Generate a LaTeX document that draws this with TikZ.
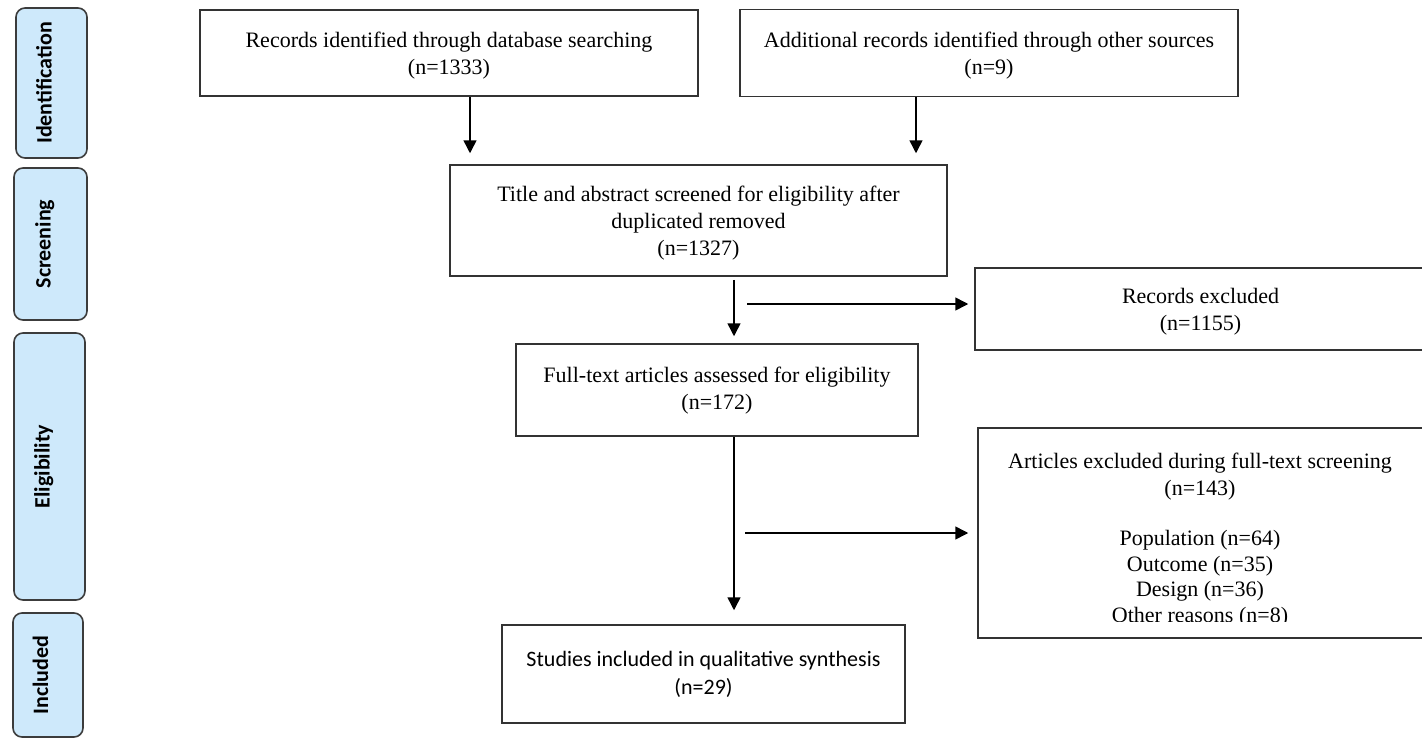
\documentclass[tikz,border=0pt]{standalone}
\usepackage{fontspec}
\setmainfont{Liberation Serif}
\newfontfamily\calibrifont{Carlito}
\usepackage{tikz}
\usetikzlibrary{arrows.meta}
\definecolor{phasefill}{RGB}{206,233,251}
\definecolor{phaseline}{RGB}{60,60,60}

\begin{document}
\begin{tikzpicture}[
  x=1pt,y=-1pt,
  box/.style={draw=black!80,line width=1.5pt,inner sep=0pt,align=center,text depth=-3pt,
              font=\fontsize{22pt}{27pt}\selectfont},
  phase/.style={draw=phaseline,fill=phasefill,line width=1.6pt,rounded corners=9pt,
                rotate=90,inner sep=0pt,text height=9pt,text depth=9pt,
                font=\calibrifont\bfseries\fontsize{22pt}{26pt}\selectfont},
  ar/.style={-{Triangle[length=13pt,width=13pt]},line width=1.5pt}
]
\useasboundingbox (0,0) rectangle (1422,739);

% phases on the left
\node[phase,minimum width=150pt,minimum height=71pt] (idf) at (51.5,83) {Identification};
\node[phase,minimum width=152pt,minimum height=73pt] (scr) at (50.5,244) {Screening};
\node[phase,minimum width=267pt,minimum height=71pt] (elg) at (49.5,466.5) {Eligibility};
\node[phase,minimum width=124pt,minimum height=70pt] (icl) at (48,675) {Included};

% flow boxes
\node[box,minimum width=498pt,minimum height=86pt] (db) at (449,53)
  {Records identified through database searching\\(n=1333)};
\node[box,minimum width=498pt,minimum height=87pt] (oth) at (989,53)
  {Additional records identified through other sources\\(n=9)};
\node[box,minimum width=497pt,minimum height=111pt] (ttl) at (698.5,220.5)
  {Title and abstract screened for eligibility after\\duplicated removed\\(n=1327)};
\node[box,minimum width=451pt,minimum height=82pt] (rex) at (1200.5,309)
  {Records excluded\\(n=1155)};
\node[box,minimum width=402pt,minimum height=92pt,text depth=3pt] (ful) at (717,390)
  {Full-text articles assessed for eligibility\\(n=172)};
\node[box,minimum width=448pt,minimum height=210pt] (aex) at (1202,533) {};
\begin{scope}
  \clip (978,428) rectangle (1426,621);
  \node[align=center,inner sep=0pt,font=\fontsize{22pt}{25.5pt}\selectfont] (aext) at (1200,540)
    {Articles excluded during full-text screening\\[1.5pt](n=143)\\[24.5pt]
     Population (n=64)\\Outcome (n=35)\\Design (n=36)\\Other reasons (n=8)};
\end{scope}
\node[box,minimum width=403pt,minimum height=98pt,text depth=,
      font=\calibrifont\fontsize{22pt}{28pt}\selectfont]
  (inc) at (703.5,674) {Studies included in qualitative synthesis\\(n=29)};

% connectors
\draw[ar,shorten >=11pt] ([xshift=21pt]db.south) -- ([xshift=21pt]db.south |- ttl.north);
\draw[ar,shorten >=11pt] ([xshift=-73pt]oth.south) -- ([xshift=-73pt]oth.south |- ttl.north);
\draw[ar,shorten <=3pt,shorten >=7pt] ([xshift=35.5pt]ttl.south) -- ([xshift=35.5pt]ttl.south |- ful.north);
\draw[ar,shorten >=14pt] ([xshift=17pt]ful.south) -- ([xshift=17pt]ful.south |- inc.north);
\coordinate (br1) at (747,304);
\draw[ar,shorten >=6pt] (br1) -- (br1 -| rex.west);
\coordinate (br2) at (745,533);
\draw[ar,shorten >=9pt] (br2) -- (br2 -| aex.west);
\end{tikzpicture}
\end{document}
